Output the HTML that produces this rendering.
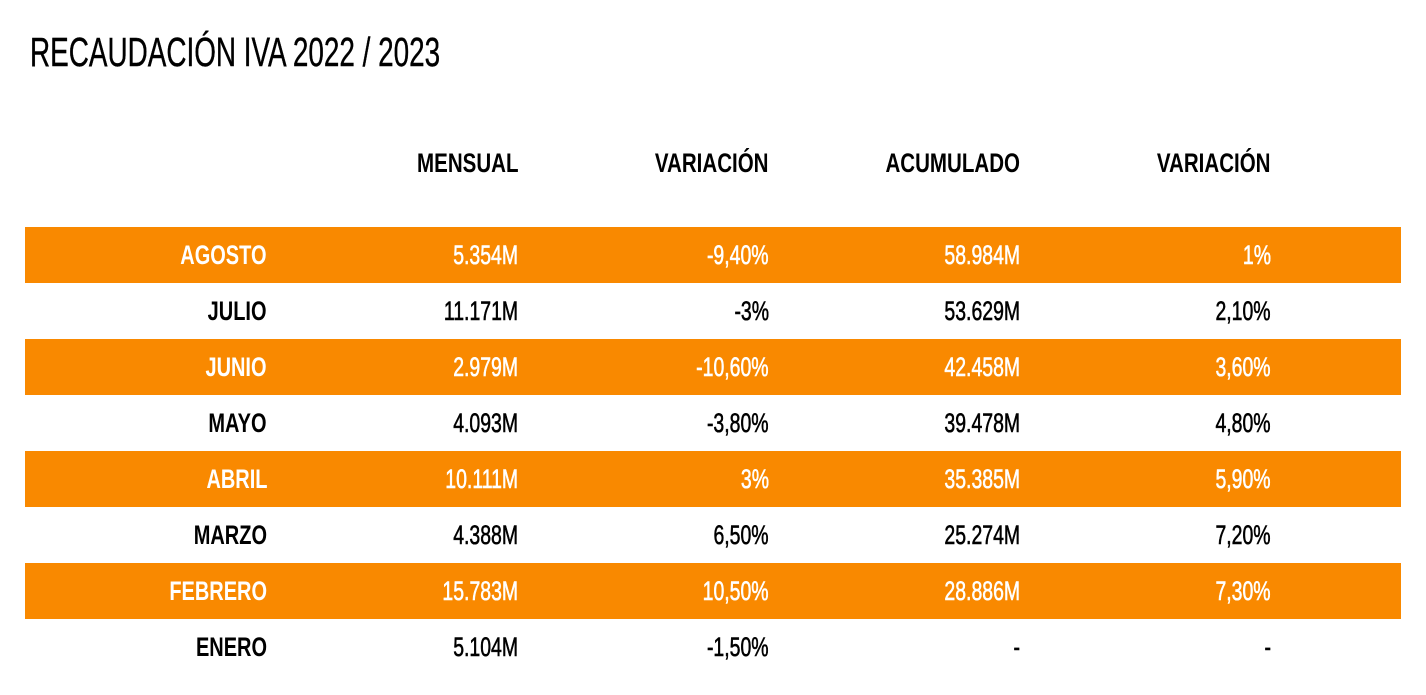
<!DOCTYPE html>
<html><head><meta charset="utf-8">
<style>
html,body{margin:0;padding:0;background:#fff;}
#page{position:relative;width:1426px;height:695px;overflow:hidden;background:#fff;font-family:"Liberation Sans",sans-serif;color:#000;}
.title{position:absolute;left:30px;top:30px;font-size:41px;line-height:44px;white-space:nowrap;transform-origin:left center;transform:scaleX(0.68);-webkit-text-stroke:0.4px #000;}
.row{position:absolute;left:25px;width:1376px;height:56px;}
.o{background:#f98900;}
.cell{position:absolute;height:56px;line-height:56px;font-size:27px;white-space:nowrap;transform-origin:right center;transform:scaleX(0.72);-webkit-text-stroke:0.6px #000;}
.b{font-weight:bold;transform:scaleX(0.74);-webkit-text-stroke:0;}
.w{color:#fff;-webkit-text-stroke-color:#fff;}
.hd{position:absolute;top:146px;height:34px;line-height:34px;font-size:27px;font-weight:bold;white-space:nowrap;transform-origin:right center;transform:scaleX(0.76);}
</style></head>
<body>
<div id="page">
<div class="title">RECAUDACIÓN IVA 2022 / 2023</div>
<div class="hd" style="right:908px">MENSUAL</div>
<div class="hd" style="right:657px">VARIACIÓN</div>
<div class="hd" style="right:406px">ACUMULADO</div>
<div class="hd" style="right:155px">VARIACIÓN</div>
</div>
<script>
const months=["AGOSTO","JULIO","JUNIO","MAYO","ABRIL","MARZO","FEBRERO","ENERO"];
const mensual=["5.354M","11.171M","2.979M","4.093M","10.111M","4.388M","15.783M","5.104M"];
const varMensual=["-9,40%","-3%","-10,60%","-3,80%","3%","6,50%","10,50%","-1,50%"];
const acumulado=["58.984M","53.629M","42.458M","39.478M","35.385M","25.274M","28.886M","-"];
const varAcum=["1%","2,10%","3,60%","4,80%","5,90%","7,20%","7,30%","-"];
const page=document.getElementById('page');
const rights=[1159,908,657,406,155];
const names=['month-label','mensual-value','variacion-mensual-value','acumulado-value','variacion-acumulado-value'];
months.forEach((m,i)=>{
  const top=227+i*56;
  const orange=i%2===0;
  const r=document.createElement('div');
  r.className='row'+(orange?' o':'');
  r.style.top=top+'px';
  
  
  page.appendChild(r);
  const vals=[m,mensual[i],varMensual[i],acumulado[i],varAcum[i]];
  vals.forEach((v,j)=>{
    const c=document.createElement('div');
    c.className='cell'+(j===0?' b':'')+(orange?' w':'');
    c.style.top=top+'px';
    c.style.right=rights[j]+'px';
    c.textContent=v;
    
    
    page.appendChild(c);
  });
});
</script>
</body></html>
